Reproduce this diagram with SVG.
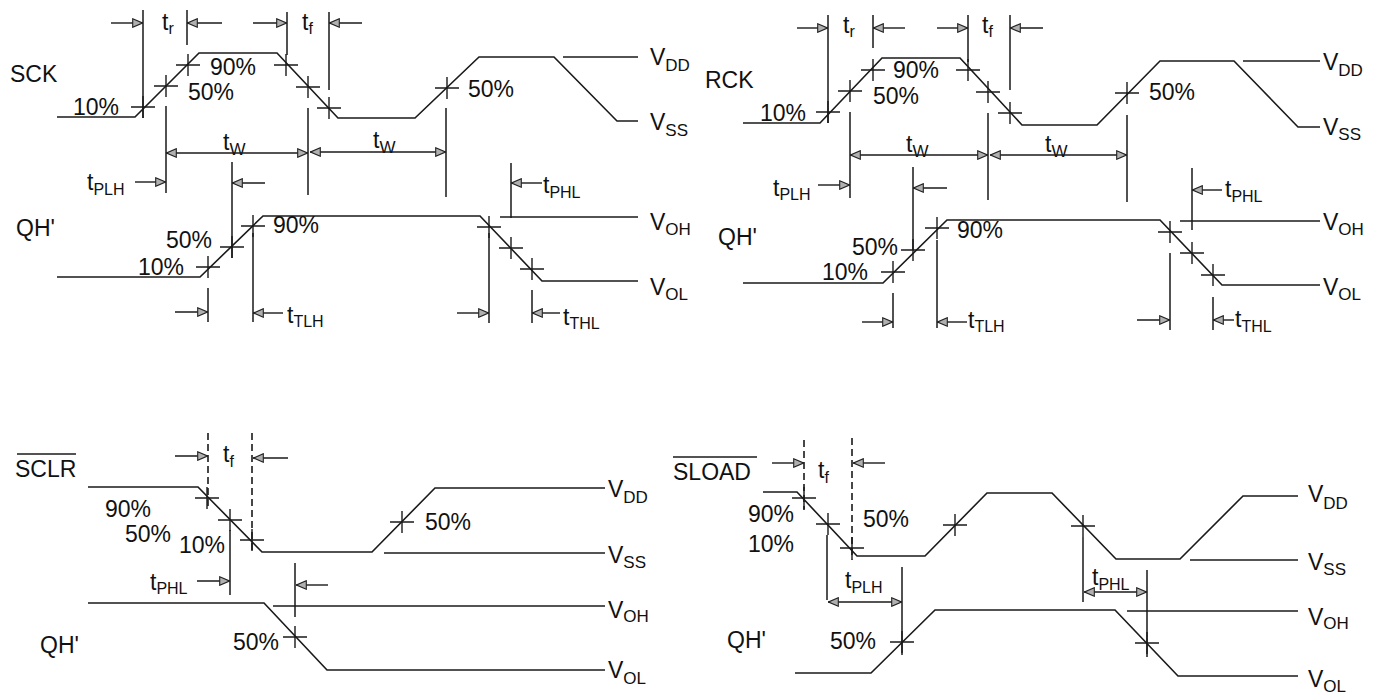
<svg xmlns="http://www.w3.org/2000/svg" xmlns:xlink="http://www.w3.org/1999/xlink" width="1388" height="695" viewBox="0 0 1388 695">
<style>
.w{fill:none;stroke:#1a1a1a;stroke-width:1.6}
.v{fill:none;stroke:#1a1a1a;stroke-width:1.5}
.dd{fill:none;stroke:#1a1a1a;stroke-width:1.6;stroke-dasharray:7 4}
.ar{fill:none;stroke:#1a1a1a;stroke-width:1.4;marker-end:url(#ah)}
.ar2{fill:none;stroke:#1a1a1a;stroke-width:1.4;marker-end:url(#ah);marker-start:url(#ah)}
.lb{font-family:"Liberation Sans",Arial,sans-serif;font-size:23px;fill:#111}
.s{font-size:16px}
.vs{font-size:17px}
</style>
<defs>
<marker id="ah" viewBox="0 0 11 10" refX="11" refY="5" markerWidth="11" markerHeight="10" markerUnits="userSpaceOnUse" orient="auto-start-reverse">
<path d="M0.7,0.7L10.5,5L0.7,9.3Z" fill="#b0b0b0" stroke="#222" stroke-width="1.1"/>
</marker>
<path id="c" d="M-12,0H12M0,-11V11" fill="none" stroke="#1a1a1a" stroke-width="1.4"/>
</defs>

<g id="panel-sck">
<path class="w" d="M57,117H135L199,53H277L338,118H415L479,57H554L617,121H638"/>
<path class="w" d="M563,57H638"/>
<path class="w" d="M57,277H200L263,216H480L542,281H638"/>
<path class="w" d="M500,217H638"/>
<path class="v" d="M143,10V118M187,10V45M287,12V55M329,12V90M166,106V193M308,108V195M446,108V197M232,162V258M208,288V322M253,233V322M489,233V323M511,163V218M532,290V323"/>
<use href="#c" x="143" y="107"/><use href="#c" x="166" y="86"/><use href="#c" x="188" y="65"/>
<use href="#c" x="286" y="65"/><use href="#c" x="308" y="87"/><use href="#c" x="329" y="108"/>
<use href="#c" x="447" y="88"/>
<use href="#c" x="208" y="267"/><use href="#c" x="232" y="247"/><use href="#c" x="253" y="226"/>
<use href="#c" x="489" y="227"/><use href="#c" x="511" y="248"/><use href="#c" x="532" y="269"/>
<text class="lb" x="10" y="82">SCK</text>
<text class="lb" x="16" y="236">QH'</text>
<text class="lb" x="73" y="115">10%</text>
<text class="lb" x="188" y="100">50%</text>
<text class="lb" x="210" y="75">90%</text>
<text class="lb" x="468" y="97">50%</text>
<text class="lb" x="166" y="248">50%</text>
<text class="lb" x="138" y="275">10%</text>
<text class="lb" x="273" y="233">90%</text>
<text class="lb" x="162" y="30">t<tspan class="s" dy="4">r</tspan></text>
<text class="lb" x="302" y="30">t<tspan class="s" dy="4">f</tspan></text>
<text class="lb" x="223" y="150">t<tspan class="vs" dy="5">W</tspan></text>
<text class="lb" x="373" y="148">t<tspan class="vs" dy="5">W</tspan></text>
<text class="lb" x="87" y="190">t<tspan class="s" dy="5">PLH</tspan></text>
<text class="lb" x="287" y="323">t<tspan class="s" dy="4">TLH</tspan></text>
<text class="lb" x="543" y="193">t<tspan class="s" dy="5">PHL</tspan></text>
<text class="lb" x="563" y="325">t<tspan class="s" dy="4">THL</tspan></text>
<text class="lb" x="650" y="65">V<tspan class="vs" dy="6">DD</tspan></text>
<text class="lb" x="650" y="130">V<tspan class="vs" dy="6">SS</tspan></text>
<text class="lb" x="650" y="230">V<tspan class="vs" dy="5">OH</tspan></text>
<text class="lb" x="650" y="295">V<tspan class="vs" dy="5">OL</tspan></text>
</g>

<g id="panel-rck">
<path class="w" d="M743,123H820L882,58H960L1022,125H1097L1160,61H1234L1298,127H1320"/>
<path class="w" d="M1243,61H1320"/>
<path class="w" d="M743,283H883L947,220H1160L1222,285H1320"/>
<path class="w" d="M1180,221H1320"/>
<path class="v" d="M828,15V123M873,15V48M968,15V62M1010,15V90M850,112V198M988,113V200M1127,115V202M913,167V250M893,293V328M937,240V328M1192,168V230M1170,253V330M1213,297V330"/>
<use href="#c" x="828" y="112"/><use href="#c" x="850" y="91"/><use href="#c" x="873" y="70"/>
<use href="#c" x="968" y="70"/><use href="#c" x="988" y="92"/><use href="#c" x="1010" y="113"/>
<use href="#c" x="1127" y="93"/>
<use href="#c" x="893" y="272"/><use href="#c" x="913" y="250"/><use href="#c" x="937" y="228"/>
<use href="#c" x="1170" y="232"/><use href="#c" x="1192" y="253"/><use href="#c" x="1213" y="275"/>
<text class="lb" x="705" y="88">RCK</text>
<text class="lb" x="718" y="245">QH'</text>
<text class="lb" x="760" y="121">10%</text>
<text class="lb" x="873" y="104">50%</text>
<text class="lb" x="893" y="78">90%</text>
<text class="lb" x="1149" y="100">50%</text>
<text class="lb" x="822" y="280">10%</text>
<text class="lb" x="852" y="255">50%</text>
<text class="lb" x="957" y="238">90%</text>
<text class="lb" x="843" y="33">t<tspan class="s" dy="4">r</tspan></text>
<text class="lb" x="982" y="33">t<tspan class="s" dy="4">f</tspan></text>
<text class="lb" x="906" y="152">t<tspan class="vs" dy="5">W</tspan></text>
<text class="lb" x="1045" y="152">t<tspan class="vs" dy="5">W</tspan></text>
<text class="lb" x="773" y="196">t<tspan class="s" dy="4">PLH</tspan></text>
<text class="lb" x="968" y="328">t<tspan class="s" dy="4">TLH</tspan></text>
<text class="lb" x="1225" y="197">t<tspan class="s" dy="5">PHL</tspan></text>
<text class="lb" x="1235" y="327">t<tspan class="s" dy="5">THL</tspan></text>
<text class="lb" x="1323" y="70">V<tspan class="vs" dy="6">DD</tspan></text>
<text class="lb" x="1323" y="135">V<tspan class="vs" dy="5">SS</tspan></text>
<text class="lb" x="1323" y="230">V<tspan class="vs" dy="5">OH</tspan></text>
<text class="lb" x="1323" y="295">V<tspan class="vs" dy="5">OL</tspan></text>
</g>

<g id="panel-sclr">
<path class="w" d="M88,487H198L262,552H372L435,488H605"/>
<path class="w" d="M384,553H605"/>
<path class="w" d="M88,603H264L327,670H605"/>
<path class="w" d="M273,606H605"/>
<path class="dd" d="M208,433V510M252,433V552"/>
<path class="v" d="M230,530V595M295,563V617"/>
<use href="#c" x="207" y="498"/><use href="#c" x="230" y="520"/><use href="#c" x="252" y="540"/>
<use href="#c" x="402" y="522"/><use href="#c" x="295" y="637"/>
<text class="lb" x="15" y="477">SCLR</text>
<path class="v" d="M17,454H76"/>
<text class="lb" x="40" y="653">QH'</text>
<text class="lb" x="105" y="517">90%</text>
<text class="lb" x="125" y="542">50%</text>
<text class="lb" x="179" y="553">10%</text>
<text class="lb" x="425" y="530">50%</text>
<text class="lb" x="233" y="650">50%</text>
<text class="lb" x="223" y="462">t<tspan class="s" dy="5">f</tspan></text>
<text class="lb" x="150" y="590">t<tspan class="s" dy="4">PHL</tspan></text>
<text class="lb" x="608" y="497">V<tspan class="vs" dy="6">DD</tspan></text>
<text class="lb" x="608" y="563">V<tspan class="vs" dy="5">SS</tspan></text>
<text class="lb" x="608" y="618">V<tspan class="vs" dy="4">OH</tspan></text>
<text class="lb" x="608" y="678">V<tspan class="vs" dy="6">OL</tspan></text>
</g>

<g id="panel-sload">
<path class="w" d="M763,492H797L857,556H925L987,493H1052L1116,559H1180L1243,496H1298"/>
<path class="w" d="M1190,560H1298"/>
<path class="w" d="M795,673H871L935,610H1115L1178,676H1298"/>
<path class="w" d="M1127,611H1298"/>
<path class="dd" d="M804,440V510M852,438V560"/>
<path class="v" d="M827,535V600M902,567V655M1083,537V602M1147,570V657"/>
<use href="#c" x="804" y="498"/><use href="#c" x="828" y="524"/><use href="#c" x="852" y="548"/>
<use href="#c" x="955" y="525"/><use href="#c" x="1083" y="526"/>
<use href="#c" x="902" y="642"/><use href="#c" x="1147" y="643"/>
<text class="lb" x="673" y="480">SLOAD</text>
<path class="v" d="M673,457H757"/>
<text class="lb" x="727" y="648">QH'</text>
<text class="lb" x="748" y="522">90%</text>
<text class="lb" x="748" y="552">10%</text>
<text class="lb" x="863" y="527">50%</text>
<text class="lb" x="830" y="649">50%</text>
<text class="lb" x="818" y="478">t<tspan class="s" dy="5">f</tspan></text>
<text class="lb" x="845" y="588">t<tspan class="s" dy="5">PLH</tspan></text>
<text class="lb" x="1092" y="585">t<tspan class="s" dy="5">PHL</tspan></text>
<text class="lb" x="1308" y="502">V<tspan class="vs" dy="7">DD</tspan></text>
<text class="lb" x="1308" y="570">V<tspan class="vs" dy="5">SS</tspan></text>
<text class="lb" x="1308" y="625">V<tspan class="vs" dy="4">OH</tspan></text>
<text class="lb" x="1308" y="687">V<tspan class="vs" dy="5">OL</tspan></text>
</g>

<g id="connectors">
<path class="ar" d="M111,23H143"/>
<path class="ar" d="M222,23H187"/>
<path class="ar" d="M253,23H287"/>
<path class="ar" d="M362,23H329"/>
<path class="ar2" d="M166,153H308"/>
<path class="ar2" d="M310,152H446"/>
<path class="ar" d="M135,182H166"/>
<path class="ar" d="M265,183H232"/>
<path class="ar" d="M175,312H208"/>
<path class="ar" d="M283,313H253"/>
<path class="ar" d="M542,183H511"/>
<path class="ar" d="M457,313H489"/>
<path class="ar" d="M560,313H532"/>

<path class="ar" d="M797,28H828"/>
<path class="ar" d="M905,28H873"/>
<path class="ar" d="M937,28H968"/>
<path class="ar" d="M1043,28H1010"/>
<path class="ar2" d="M850,155H988"/>
<path class="ar2" d="M990,155H1127"/>
<path class="ar" d="M818,185H850"/>
<path class="ar" d="M947,188H913"/>
<path class="ar" d="M862,322H893"/>
<path class="ar" d="M967,322H937"/>
<path class="ar" d="M1222,190H1192"/>
<path class="ar" d="M1137,320H1170"/>
<path class="ar" d="M1234,320H1213"/>

<path class="ar" d="M175,456H208"/>
<path class="ar" d="M288,458H253"/>
<path class="ar" d="M197,581H230"/>
<path class="ar" d="M328,585H296"/>

<path class="ar" d="M772,463H804"/>
<path class="ar" d="M885,463H853"/>
<path class="ar2" d="M828,602H902"/>
<path class="ar2" d="M1084,592H1147"/>
</g>
</svg>
